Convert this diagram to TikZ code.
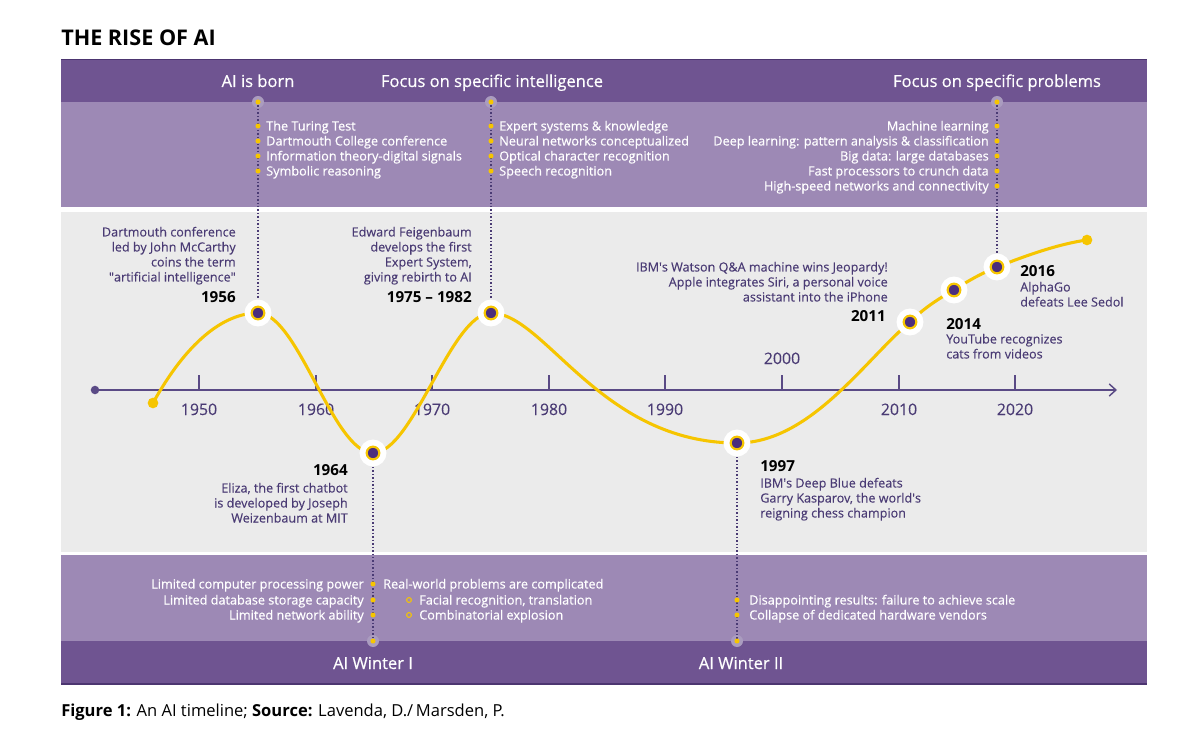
\documentclass[tikz,border=0pt]{standalone}
\usepackage{fontspec}
\setmainfont{Open Sans}
\newfontfamily\medfont{Open Sans}[FakeBold=0.45]
\newfontfamily\bodyfont{Open Sans}[FakeBold=0.15]
\usetikzlibrary{arrows.meta}
\definecolor{banddark}{HTML}{6F5491}
\definecolor{bandlight}{HTML}{9D89B5}
\definecolor{bggray}{HTML}{EBEBEB}
\definecolor{txtpurple}{HTML}{4A3B74}
\definecolor{axispurple}{HTML}{5A4A85}
\definecolor{ylw}{HTML}{F6C500}
\definecolor{mpurple}{HTML}{4B2E7D}
\definecolor{bumpgray}{HTML}{AA9CBF}
\definecolor{edgepurple}{HTML}{4C3570}
\begin{document}
\begin{tikzpicture}[x=0.75pt,y=-0.75pt,
  titletext/.style={font=\bfseries\fontsize{16.2}{18}\selectfont, text=black, inner sep=0},
  head/.style={font=\medfont\fontsize{12.4}{14}\selectfont, text=white, inner sep=0},
  item/.style={font=\medfont\fontsize{9.5}{11}\selectfont, text=white, inner sep=0},
  body/.style={font=\bodyfont\fontsize{9.45}{11}\selectfont, text=txtpurple, inner sep=0},
  yeartext/.style={font=\bfseries\fontsize{11.4}{13}\selectfont, text=black, inner sep=0},
  ticklabel/.style={font=\bodyfont\fontsize{11.9}{13}\selectfont, text=txtpurple, inner sep=0},
  captext/.style={font=\fontsize{12.4}{14}\selectfont, text=black, inner sep=0},
  dotline/.style={draw=txtpurple, line width=1.1pt, dash pattern=on 1.1pt off 1.5pt},
  marker/.style={circle, fill=mpurple, draw=ylw, line width=1.6pt, minimum size=9.5pt,
    inner sep=0, preaction={draw=white, line width=10.5pt}},
  bump/.style={circle, fill=bumpgray, minimum size=9pt, inner sep=0},
  ydot/.style={circle, fill=ylw, minimum size=3.8pt, inner sep=0},
  yring/.style={circle, draw=ylw, line width=0.8pt, minimum size=3.6pt, inner sep=0},
  curve/.style={draw=ylw, line width=2.3pt},
  axisline/.style={draw=axispurple, line width=1.1pt}]

\fill[white] (0,0) rectangle (1200,752);
\useasboundingbox (0,0) rectangle (1200,752);

% title
\node[titletext, anchor=base west] (title) at (61,46) {THE RISE OF AI};

% bands
\fill[banddark] (61,59) rectangle (1147,102);
\draw[edgepurple, line width=1.1pt] (61,59.5) -- (1147,59.5);
\fill[bandlight] (61,102) rectangle (1147,207);
\fill[bggray] (61,212) rectangle (1147,552);
\fill[bandlight] (61,555) rectangle (1147,641);
\fill[banddark] (61,641) rectangle (1147,684);
\draw[edgepurple, line width=1.1pt] (61,684) -- (1147,684);

% axis
\coordinate (ax0) at (95,390);
\coordinate (ax1) at (1117,390);
\draw[axisline, -{Straight Barb[length=5pt, width=9pt, line width=1.1pt]}] (ax0) -- (ax1);
\fill[axispurple] (ax0) circle (3.2pt);
\foreach \yr/\x in {1950/199,1960/316,1970/432,1980/549,1990/665,2000/782,2010/899,2020/1015}{
  \draw[axisline] (\x,390) -- (\x,375);
}
\foreach \yr/\x in {1950/199,1960/316,1970/432,1980/549,1990/665,2010/899,2020/1015}{
  \node[ticklabel, anchor=base] (t\yr) at (\x,415) {\yr};
}
\node[ticklabel, anchor=base] (t2000) at (782,364) {2000};

% curve points
\coordinate (c0) at (153,403);
\coordinate (p1956) at (258,313);
\coordinate (p1964) at (373,453);
\coordinate (p1975) at (491,313);
\coordinate (p1997) at (737,443);
\coordinate (p2011) at (910,322);
\coordinate (p2014) at (954,290);
\coordinate (p2016) at (997,267);
\coordinate (c1) at (1087,240);

\draw[curve] (c0) .. controls (185,345) and (222,313) .. (p1956)
  .. controls (298,313) and (333,453) .. (p1964)
  .. controls (413,453) and (451,313) .. (p1975)
  .. controls (545,313) and (600,443) .. (p1997)
  .. controls (810,443) and (865,360) .. (p2011)
  .. controls (925,307) and (940,298) .. (p2014)
  .. controls (968,281) and (980,274) .. (p2016)
  .. controls (1025,256) and (1058,244) .. (c1);
\fill[ylw] (c0) circle (4pt);
\fill[ylw] (c1) circle (4pt);

% bumps on the band edges
\node[bump] (b1956) at (258,102) {};
\node[bump] (b1975) at (491,102) {};
\node[bump] (b2016) at (997,102) {};
\node[bump] (b1964) at (373,641) {};
\node[bump] (b1997) at (737,641) {};

% dotted leaders
\draw[dotline] (b1956.center) -- (p1956);
\draw[dotline] (b1975.center) -- (p1975);
\draw[dotline] (b2016.center) -- (p2016);
\draw[dotline] (p1964) -- (b1964.center);
\draw[dotline] (p1997) -- (b1997.center);

\foreach \b in {b1956,b1975,b2016,b1964,b1997}{
  \node[ydot] at (\b) {};
}

% markers
\foreach \p in {1956,1964,1975,1997,2011,2014,2016}{
  \node[marker] (m\p) at (p\p) {};
}

% headings
\node[head, anchor=base] (h1) at (258,87) {AI is born};
\node[head, anchor=base] (h2) at (492,87) {Focus on specific intelligence};
\node[head, anchor=base] (h3) at (997,87) {Focus on specific problems};
\node[head, anchor=base] (h4) at (373,669) {AI Winter I};
\node[head, anchor=base] (h5) at (741,669) {AI Winter II};

% top lists
\foreach \t [count=\i] in {The Turing Test, Dartmouth College conference, Information theory-digital signals, Symbolic reasoning}{
  \node[ydot] (ba\i) at (258,111+15*\i) {};
  \node[item, anchor=base west] (la\i) at (266,115.5+15*\i) {\t};
}
\foreach \t [count=\i] in {Expert systems \& knowledge, Neural networks conceptualized, Optical character recognition, Speech recognition}{
  \node[ydot] (bb\i) at (491,111+15*\i) {};
  \node[item, anchor=base west] (lb\i) at (499,115.5+15*\i) {\t};
}
\foreach \t [count=\i] in {Machine learning, Deep learning: pattern analysis \& classification, Big data: large databases, Fast processors to crunch data, High-speed networks and connectivity}{
  \node[ydot] (bc\i) at (997,111+15*\i) {};
  \node[item, anchor=base east] (lc\i) at (989,115.5+15*\i) {\t};
}

% bottom lists
\foreach \t/\y [count=\i] in {Limited computer processing power/584, Limited database storage capacity/600, Limited network ability/615}{
  \node[ydot] (bd\i) at (373,\y) {};
  \node[item, anchor=base east] (ld\i) at (364,\y+4.5) {\t};
}
\node[item, anchor=base west] (le0) at (383,588.5) {Real-world problems are complicated};
\node[yring] (be1) at (409,600) {};
\node[item, anchor=base west] (le1) at (419,604.5) {Facial recognition, translation};
\node[yring] (be2) at (409,615) {};
\node[item, anchor=base west] (le2) at (419,619.5) {Combinatorial explosion};
\node[ydot] (bf1) at (737,600) {};
\node[item, anchor=base west] (lf1) at (749,604.5) {Disappointing results: failure to achieve scale};
\node[ydot] (bf2) at (737,615) {};
\node[item, anchor=base west] (lf2) at (749,619.5) {Collapse of dedicated hardware vendors};

% event notes
\foreach \t [count=\i] in {Dartmouth conference, led by John McCarthy, coins the term, \textquotedbl artificial intelligence\textquotedbl}{
  \node[body, anchor=base east] (n1-\i) at (236,221.5+15*\i) {\t};
}
\node[yeartext, anchor=base east] (y1956) at (236,302.5) {1956};

\foreach \t [count=\i] in {Edward Feigenbaum, develops the first, {Expert System,}, giving rebirth to AI}{
  \node[body, anchor=base east] (n2-\i) at (472,221.5+15*\i) {\t};
}
\node[yeartext, anchor=base east] (y1975) at (472,302.5) {1975 -- 1982};

\node[yeartext, anchor=base east] (y1964) at (348,475.5) {1964};
\foreach \t [count=\i] in {{Eliza, the first chatbot}, is developed by Joseph, Weizenbaum at MIT}{
  \node[body, anchor=base east] (n3-\i) at (348,477.5+15*\i) {\t};
}

\node[yeartext, anchor=base west] (y1997) at (760,471.5) {1997};
\foreach \t [count=\i] in {IBM\textquotesingle s Deep Blue defeats, {Garry Kasparov, the world\textquotesingle s}, reigning chess champion}{
  \node[body, anchor=base west] (n4-\i) at (760,472.5+15*\i) {\t};
}

\foreach \t [count=\i] in {IBM\textquotesingle s Watson Q\&A machine wins Jeopardy!, {Apple integrates Siri, a personal voice}, assistant into the iPhone}{
  \node[body, anchor=base east] (n5-\i) at (888,256.5+15*\i) {\t};
}
\node[yeartext, anchor=base east] (y2011) at (886,321.5) {2011};

\node[yeartext, anchor=base west] (y2014) at (946,329.5) {2014};
\foreach \t [count=\i] in {YouTube recognizes, cats from videos}{
  \node[body, anchor=base west] (n6-\i) at (946,328.5+15*\i) {\t};
}

\node[yeartext, anchor=base west] (y2016) at (1020,276.5) {2016};
\foreach \t [count=\i] in {AlphaGo, defeats Lee Sedol}{
  \node[body, anchor=base west] (n7-\i) at (1020,276.5+15*\i) {\t};
}

% caption
\node[captext, anchor=base west] (cap) at (61,716)
  {\textbf{Figure 1:} An AI timeline; \textbf{Source:} Lavenda, D./\,Marsden, P.};

\end{tikzpicture}
\end{document}
